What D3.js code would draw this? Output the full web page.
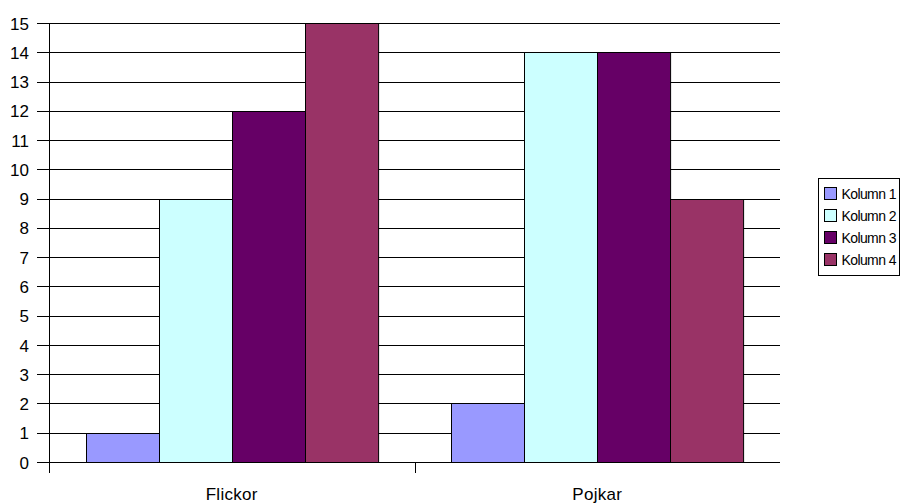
<!DOCTYPE html>
<html>
<head>
<meta charset="utf-8">
<script src="https://cdn.jsdelivr.net/npm/d3@7"></script>
<style>
  body { margin: 0; background: #fff; }
  text { font-family: "Liberation Sans", Arial, sans-serif; fill: #000; }
</style>
</head>
<body>
<svg id="chart" width="920" height="504"></svg>
<script>
const categories = ["Flickor", "Pojkar"];
const seriesNames = ["Kolumn 1", "Kolumn 2", "Kolumn 3", "Kolumn 4"];
const seriesColors = ["#9999ff", "#ccffff", "#660066", "#993366"];
const kolumn1 = [1, 2];
const kolumn2 = [9, 14];
const kolumn3 = [12, 14];
const kolumn4 = [15, 9];
const yTicks = d3.range(0, 16);

const seriesValues = [kolumn1, kolumn2, kolumn3, kolumn4];

let margin = { top: 23, left: 49, right: 140, bottom: 42 };

const svg = d3.select("#chart"),
  width = 920 - margin.left - margin.right,
  height = 504 - margin.top - margin.bottom;

const g = svg.append("g")
  .attr("transform", `translate(${margin.left},${margin.top})`);

const x = d3.scaleBand()
  .domain(categories)
  .range([0, width])
  .padding(0);

// bars fill 80% of each category band
const xInner = d3.scaleBand()
  .domain(seriesNames)
  .range([0, x.bandwidth()])
  .paddingInner(0)
  .paddingOuter(0.5);

const y = d3.scaleLinear()
  .domain([0, 15])
  .range([height, 0]);

// gridlines (and tick marks to the left of the axis)
g.append("g")
  .selectAll("line")
  .data(yTicks)
  .enter().append("line")
  .attr("x1", -12)
  .attr("x2", width)
  .attr("y1", d => Math.round(y(d)) + 0.5)
  .attr("y2", d => Math.round(y(d)) + 0.5)
  .attr("stroke", "#000")
  .attr("stroke-width", 1);

// bars
const rows = [];
categories.forEach((c, i) => {
  seriesNames.forEach((s, j) => {
    rows.push({ cat: c, series: s, value: seriesValues[j][i], color: seriesColors[j] });
  });
});

g.selectAll(".bar")
  .data(rows)
  .enter().append("rect")
  .attr("class", "bar")
  .attr("x", d => Math.round(x(d.cat) + xInner(d.series)) + 0.5)
  .attr("y", d => Math.round(y(d.value)) + 0.5)
  .attr("width", xInner.bandwidth())
  .attr("height", d => Math.round(height - y(d.value)))
  .attr("fill", d => d.color)
  .attr("stroke", "#000")
  .attr("stroke-width", 1);

// y axis labels
const yAxis = g.append("g")
  .call(d3.axisLeft(y).tickValues(yTicks).tickSize(12).tickFormat(d3.format("d")));
yAxis.select(".domain").remove();
yAxis.selectAll(".tick line").remove();
yAxis.selectAll("text")
  .attr("x", -20)
  .attr("dy", "0.36em")
  .attr("font-size", 17)
  .style("font-family", "Liberation Sans, Arial, sans-serif");

g.append("line")
  .attr("x1", 0.5).attr("x2", 0.5)
  .attr("y1", 0).attr("y2", height + 11)
  .attr("stroke", "#000");

// x axis
g.append("line")
  .attr("x1", 0).attr("x2", width)
  .attr("y1", height + 0.5).attr("y2", height + 0.5)
  .attr("stroke", "#000");

g.selectAll(".xtick")
  .data(categories.slice(1))
  .enter().append("line")
  .attr("class", "xtick")
  .attr("x1", d => Math.round(x(d)) + 0.5)
  .attr("x2", d => Math.round(x(d)) + 0.5)
  .attr("y1", height)
  .attr("y2", height + 11)
  .attr("stroke", "#000");

g.selectAll(".xlabel")
  .data(categories)
  .enter().append("text")
  .attr("class", "xlabel")
  .attr("x", d => x(d) + x.bandwidth() / 2)
  .attr("y", height + 38)
  .attr("text-anchor", "middle")
  .attr("font-size", 17)
  .attr("letter-spacing", 0.3)
  .text(d => d);

// legend
const legend = svg.append("g").attr("transform", "translate(818,178)");
legend.append("rect")
  .attr("x", 0.5).attr("y", 0.5)
  .attr("width", 81).attr("height", 97)
  .attr("fill", "#fff")
  .attr("stroke", "#000");

const items = legend.selectAll(".item")
  .data(seriesNames)
  .enter().append("g")
  .attr("class", "item")
  .attr("transform", (d, i) => `translate(6.5,${9.5 + i * 22})`);

items.append("rect")
  .attr("width", 12).attr("height", 12)
  .attr("fill", (d, i) => seriesColors[i])
  .attr("stroke", "#000");

items.append("text")
  .attr("x", 17)
  .attr("y", 11.5)
  .attr("font-size", 14)
  .attr("letter-spacing", -0.6)
  .text(d => d);
</script>
</body>
</html>
